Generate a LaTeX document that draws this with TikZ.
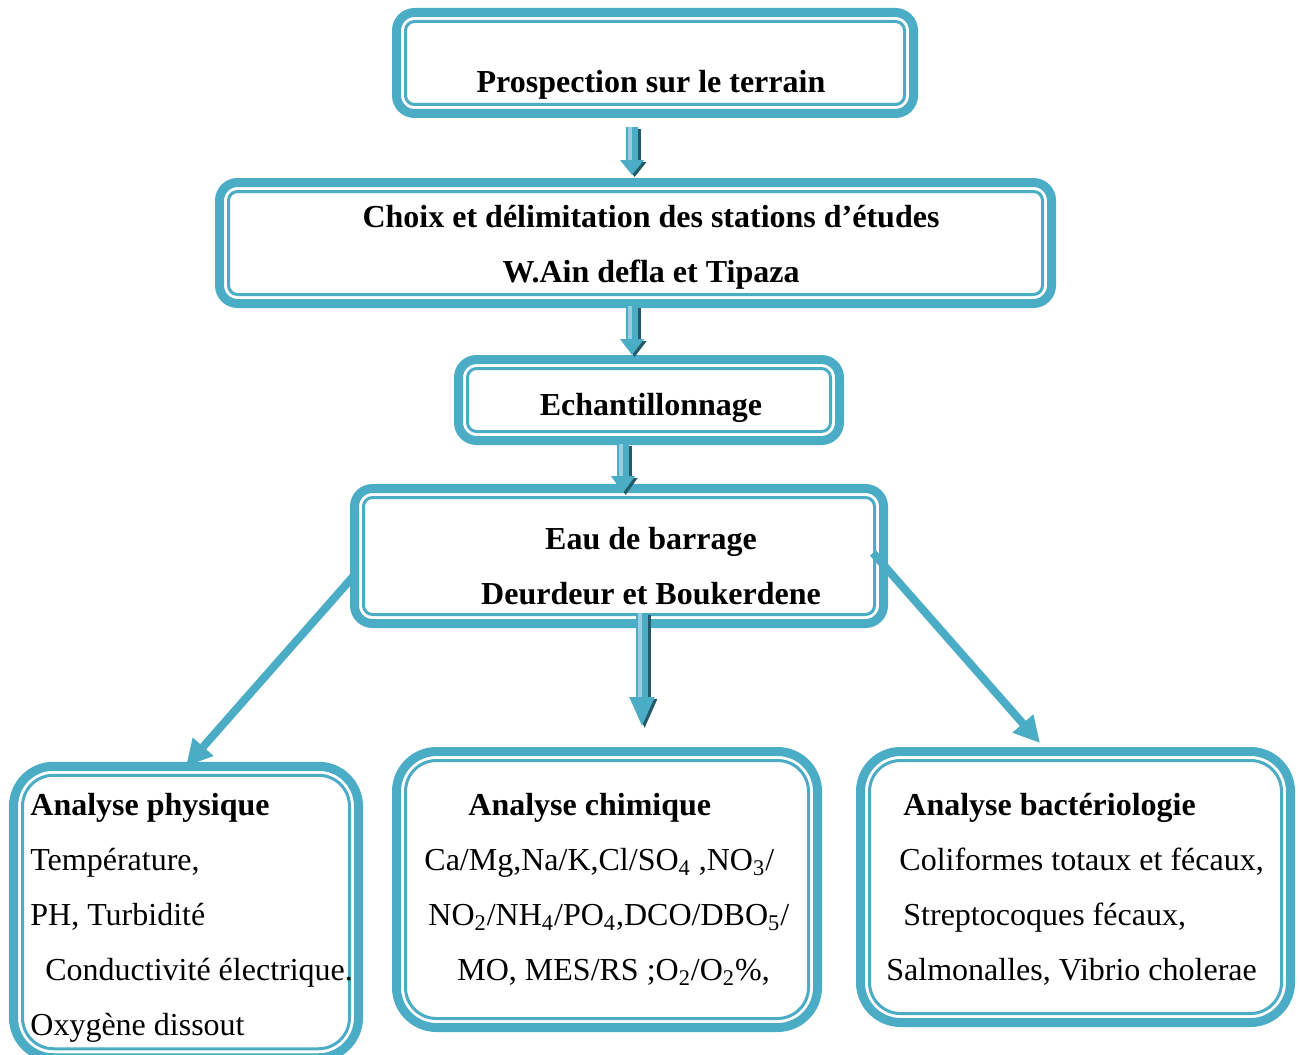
\documentclass[tikz,border=0pt]{standalone}
\usepackage{fontspec}
\setmainfont{Liberation Serif}
\usetikzlibrary{arrows.meta, calc, positioning}
\definecolor{aqua}{RGB}{75,172,198}
\definecolor{aquadark}{RGB}{35,90,105}
\definecolor{aqualight}{RGB}{150,208,224}

\begin{document}
\begin{tikzpicture}[x=0.5pt, y=-0.5pt,
  cadre/.style={draw=aqua, line width=4.5pt, fill=white, inner sep=0pt, outer sep=0pt},
  filet/.style={draw=aqua, line width=1.5pt},
  titre/.style={font=\fontsize{16}{19}\selectfont\bfseries, anchor=base, inner sep=0pt},
  ligne/.style={font=\fontsize{16}{19}\selectfont, anchor=base west, inner sep=0pt},
  fleche/.style={draw=aqua, line width=6pt, -{Triangle[length=#1, width=11.5pt]},
    preaction={draw=aquadark, line width=6pt, -{Triangle[length=#1, width=11.5pt]},
      transform canvas={shift={(1.3pt,-1pt)}}},
    postaction={draw=aqualight, line width=2pt, -, shorten >=#1,
      transform canvas={xshift=-1pt}}},
  diag/.style={draw=aqua, line width=4pt, -{Triangle[length=13pt, width=13pt]}}]
  \useasboundingbox (0,0) rectangle (1300,1054);

  % les cadres
  \node[cadre, rounded corners=9pt, minimum width=258.5pt, minimum height=50.5pt] (prosp) at (655,63) {};
  \node[cadre, rounded corners=9pt, minimum width=416pt, minimum height=60.5pt] (choix) at (635.5,243) {};
  \node[cadre, rounded corners=9pt, minimum width=190.5pt, minimum height=40.5pt] (echant) at (649,400) {};
  \node[cadre, rounded corners=9pt, minimum width=264.5pt, minimum height=67.5pt] (eau) at (619,556) {};
  \node[cadre, rounded corners=20pt, minimum width=172.5pt, minimum height=145.75pt] (phys) at (186,912) {};
  \node[cadre, rounded corners=20pt, minimum width=210.5pt, minimum height=138pt] (chim) at (607,889.5) {};
  \node[cadre, rounded corners=20pt, minimum width=215pt, minimum height=135.5pt] (bact) at (1075.5,887) {};

  \foreach \n in {prosp, choix, echant, eau}
    \draw[filet, rounded corners=4.5pt] ($(\n.north west)+(9,9)$) rectangle ($(\n.south east)+(-9,-9)$);
  \foreach \n in {phys, chim, bact}
    \draw[filet, rounded corners=15.5pt] ($(\n.north west)+(9,9)$) rectangle ($(\n.south east)+(-9,-9)$);

  % les fleches
  \draw[fleche=7.5pt] ([xshift=-11.5pt, yshift=-6.75pt]prosp.south) -- ([xshift=-1.75pt, yshift=3.75pt]choix.north);
  \draw[fleche=8pt] ([xshift=-1.75pt, yshift=-1.25pt]choix.south) -- ([xshift=-8.5pt, yshift=2.25pt]echant.north);
  \draw[fleche=8.5pt] ([xshift=-13pt, yshift=-1.75pt]echant.south) -- ([xshift=2pt, yshift=-2.25pt]eau.north);
  \draw[fleche=15pt] ([xshift=11.5pt, yshift=5.25pt]eau.south) -- ([xshift=17.5pt, yshift=12.25pt]chim.north);
  \draw[diag] ([yshift=-9.5pt]eau.west) -- (phys.north);
  \draw[diag] ([xshift=-5.25pt, yshift=1.5pt]eau.east) -- ([xshift=-17.75pt, yshift=4.25pt]bact.north);

  % les textes
  \node[titre] (t-prosp) at (651,93) {Prospection sur le terrain};
  \node[titre] (t-choix1) at (651,227) {Choix et délimitation des stations d’études};
  \node[titre] (t-choix2) at (651,282) {W.Ain defla et Tipaza};
  \node[titre] (t-echant) at (651,415) {Echantillonnage};
  \node[titre] (t-eau1) at (651,549) {Eau de barrage};
  \node[titre] (t-eau2) at (651,604) {Deurdeur et Boukerdene};

  \foreach \y/\x/\txt [count=\i] in {815/30/{\textbf{Analyse physique}}, 870/30/{Température,},
      925/30/{PH, Turbidité}, 980/45/{Conductivité électrique.}, 1035/30/{Oxygène dissout}}
    \node[ligne] (phys-\i) at (\x,\y) {\txt};
  \foreach \y/\x/\txt [count=\i] in {815/468/{\textbf{Analyse chimique}},
      870/424/{Ca/Mg,Na/K,Cl/SO\textsubscript{4} ,NO\textsubscript{3}/},
      925/428/{NO\textsubscript{2}/NH\textsubscript{4}/PO\textsubscript{4},DCO/DBO\textsubscript{5}/},
      980/457/{MO, MES/RS ;O\textsubscript{2}/O\textsubscript{2}\%,}}
    \node[ligne] (chim-\i) at (\x,\y) {\txt};
  \foreach \y/\x/\txt [count=\i] in {815/903/{\textbf{Analyse bactériologie}},
      870/899/{Coliformes totaux et fécaux,}, 925/903/{Streptocoques fécaux,},
      980/886/{Salmonalles, Vibrio cholerae}}
    \node[ligne] (bact-\i) at (\x,\y) {\txt};
\end{tikzpicture}
\end{document}
